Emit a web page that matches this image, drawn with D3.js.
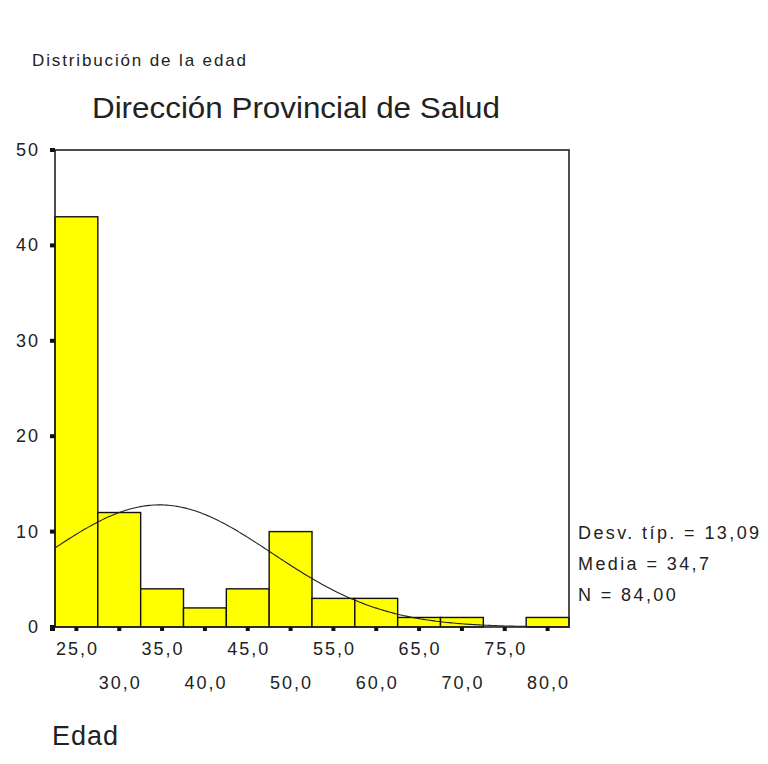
<!DOCTYPE html>
<html>
<head>
<meta charset="utf-8">
<script src="https://cdn.jsdelivr.net/npm/d3@7"></script>
<style>
  body { margin: 0; background: #fff; }
  text { font-family: "Liberation Sans", Arial, sans-serif; fill: #222; }
</style>
</head>
<body>
<div id="chart"></div>
<script>
// bins of age (centres), counts per bin
const binCentres = [25, 30, 35, 40, 45, 50, 55, 60, 65, 70, 75, 80];
const counts = [43, 12, 4, 2, 4, 10, 3, 3, 1, 1, 0, 1];
const binWidth = 5;
const yTicks = [0, 10, 20, 30, 40, 50];
const statLines = ["Desv. típ. = 13,09", "Media = 34,7", "N = 84,00"];
const mean = 34.7, sd = 13.09, n = 84;

const W = 768, H = 764;
const svg = d3.select('#chart').append('svg')
  .attr('width', W)
  .attr('height', H);

const plot = {left: 55, right: 569, top: 150, bottom: 627};

const x = d3.scaleLinear()
  .domain([binCentres[0] - binWidth / 2, binCentres[binCentres.length - 1] + binWidth / 2])
  .range([plot.left, plot.right]);
const y = d3.scaleLinear()
  .domain([0, 50])
  .range([plot.bottom, plot.top]);

// titles
svg.append('text').text('Distribución de la edad')
  .attr('x', 32).attr('y', 66)
  .attr('textLength', 214)
  .attr('lengthAdjust', 'spacing')
  .style('font-size', '17px');
svg.append('text').text('Dirección Provincial de Salud')
  .attr('x', 92).attr('y', 118)
  .attr('textLength', 408)
  .attr('lengthAdjust', 'spacingAndGlyphs')
  .style('font-size', '30px');

// bars
svg.selectAll('rect.bar')
  .data(counts)
  .enter().append('rect')
  .attr('class', 'bar')
  .attr('x', (d, i) => x(binCentres[i] - binWidth / 2))
  .attr('width', (d, i) => x(binCentres[i] + binWidth / 2) - x(binCentres[i] - binWidth / 2))
  .attr('y', d => y(d))
  .attr('height', d => y(0) - y(d))
  .style('fill', '#ffff00')
  .style('stroke', d => d > 0 ? '#111' : 'none')
  .style('stroke-width', 1.4);

// normal curve
svg.append('clipPath').attr('id', 'clip')
  .append('rect')
  .attr('x', plot.left).attr('y', plot.top)
  .attr('width', plot.right - plot.left).attr('height', plot.bottom - plot.top);
const curvePts = d3.range(x.domain()[0], x.domain()[1] + 0.01, 0.25).map(v => {
  const z = (v - mean) / sd;
  return [v, n * binWidth / (sd * Math.sqrt(2 * Math.PI)) * Math.exp(-0.5 * z * z)];
});
svg.append('path')
  .datum(curvePts)
  .attr('clip-path', 'url(#clip)')
  .attr('d', d3.line().x(d => x(d[0])).y(d => y(d[1])))
  .style('fill', 'none')
  .style('stroke', '#222')
  .style('stroke-width', 1.1);

// frame
svg.append('rect')
  .attr('x', plot.left).attr('y', plot.top)
  .attr('width', plot.right - plot.left).attr('height', plot.bottom - plot.top)
  .style('fill', 'none')
  .style('stroke', '#222')
  .style('stroke-width', 1.6);

// y axis ticks (small squares) and labels
svg.selectAll('rect.ytick')
  .data(yTicks)
  .enter().append('rect')
  .attr('class', 'ytick')
  .attr('x', plot.left - 5).attr('y', d => y(d) - 2)
  .attr('width', 5).attr('height', 4)
  .style('fill', '#111');
svg.selectAll('text.ylab')
  .data(yTicks)
  .enter().append('text')
  .attr('class', 'ylab')
  .text(d => d)
  .attr('x', 40).attr('y', d => y(d) + 6)
  .attr('text-anchor', 'end')
  .style('font-size', '18px')
  .style('letter-spacing', '2px');

// x axis ticks and staggered labels
svg.selectAll('rect.xtick')
  .data(binCentres)
  .enter().append('rect')
  .attr('class', 'xtick')
  .attr('x', d => x(d) - 2).attr('y', plot.bottom)
  .attr('width', 4).attr('height', 4)
  .style('fill', '#111');
svg.append('rect')
  .attr('x', plot.left - 5).attr('y', plot.bottom - 1)
  .attr('width', 5).attr('height', 5)
  .style('fill', '#111');
svg.selectAll('text.xlab')
  .data(binCentres)
  .enter().append('text')
  .attr('class', 'xlab')
  .text(d => d3.format('.1f')(d).replace('.', ','))
  .attr('x', d => x(d) + 1)
  .attr('y', (d, i) => i % 2 === 0 ? 655 : 689)
  .attr('text-anchor', 'middle')
  .style('font-size', '18px')
  .style('letter-spacing', '2px');

// stats text
svg.selectAll('text.stat')
  .data(statLines)
  .enter().append('text')
  .attr('class', 'stat')
  .text(d => d)
  .attr('x', 578)
  .attr('y', (d, i) => 539 + i * 31)
  .style('font-size', '18px')
  .style('letter-spacing', '2.4px');

// axis title
svg.append('text').text('Edad')
  .attr('x', 52).attr('y', 745)
  .style('font-size', '27px')
  .style('letter-spacing', '1px');
</script>
</body>
</html>
